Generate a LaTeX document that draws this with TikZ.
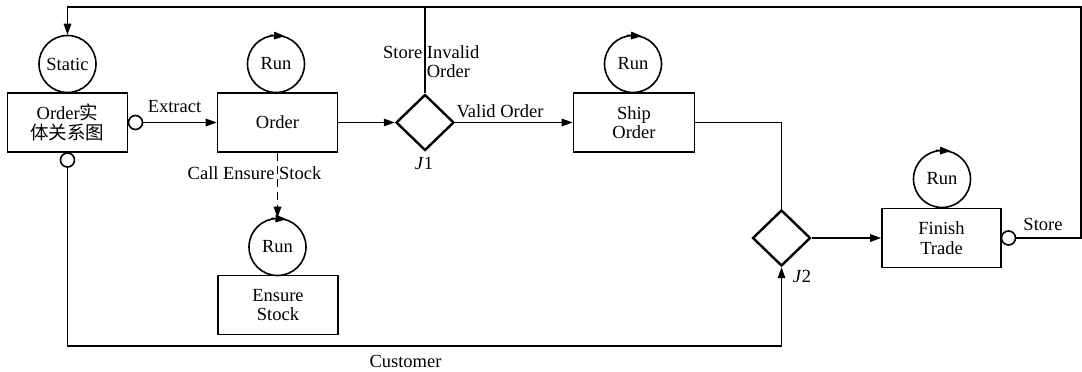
\documentclass[tikz,border=0pt]{standalone}
\usepackage{fontspec}
\setmainfont{Liberation Serif}
\newfontfamily\cjk{Noto Sans CJK SC}
\usetikzlibrary{shapes.geometric,arrows.meta}
\begin{document}
\begin{tikzpicture}[x=1pt,y=-1pt,
  every node/.style={font=\fontsize{18.5}{19.5}\selectfont},
  box/.style={draw,line width=1.6pt,minimum width=120pt,minimum height=59pt,inner sep=0pt,align=center},
  state/.style={draw,circle,line width=1.6pt,minimum size=57pt,inner sep=0pt},
  port/.style={draw,circle,line width=1.6pt,minimum size=14pt,inner sep=0pt},
  junc/.style={draw,diamond,line width=2.4pt,minimum width=58pt,minimum height=56pt,inner sep=0pt},
  conn/.style={line width=1.5pt},
  tip/.style={-{Triangle[length=11pt,width=7.5pt]}},
  lbl/.style={inner sep=0pt}]
\useasboundingbox (0,0) rectangle (1082,372);
% nodes
\node[box] (ent) at (67.5,122.5) {Order{\cjk 实}\\{\cjk 体关系图}};
\node[state] (static) at (67.5,64) {Static};
\node[port] (p1) at (135.5,122.5) {};
\node[port] (p2) at (67.5,160) {};
\node[box] (order) at (277.5,122.5) {Order};
\node[state] (run1) at (276,64) {Run};
\node[junc] (j1) at (425,122.5) {};
\node[box,minimum width=121pt] (ship) at (634,122.5) {Ship\\Order};
\node[state] (run2) at (633,64) {Run};
\node[junc] (j2) at (781.5,238) {};
\node[box,minimum width=119pt] (finish) at (941.5,238) {Finish\\Trade};
\node[state] (run3) at (942,179) {Run};
\node[port] (p3) at (1008.5,238) {};
\node[state] (run4) at (277.5,247) {Run};
\node[box] (ensure) at (278,305) {Ensure\\Stock};
% coordinates
\coordinate (tr) at (1081,7);
\coordinate (tl) at (67.5,7);
\coordinate (bl) at (67.5,346);
% run arrows
\draw[conn,tip] (run1.102) -- (run1.72);
\draw[conn,tip] (run2.102) -- (run2.72);
\draw[conn,tip] (run3.102) -- (run3.72);
\draw[conn,tip] (run4.102) -- (run4.72);
% connectors
\draw[conn,tip] (p1) -- (order);
\draw[conn,tip] (order) -- (j1);
\draw[conn,tip] (j1) -- (ship);
\draw[conn] (ship.east) -| (j2.north);
\draw[conn,tip] (j2) -- (finish);
\draw[conn,tip] (p3.east) -- (p3.east -| tr) -- (tr) -- (tl) -- (static.north);
\draw[conn] (j1.north) -- (j1.north |- tl);
\draw[conn,tip] (p2.south) -- (bl) -| (j2.south);
\draw[conn,tip,dash pattern=on 8pt off 5pt] (order.south) -- (run4.north);
% labels
\node[lbl] (lext) at (174.5,107) {Extract};
\node[lbl,align=left,anchor=west] (lsio) at (383,61.5) {Store Invalid\\\phantom{Store }Order};
\node[lbl] (lvo) at (500,111) {Valid Order};
\node[lbl] (lces) at (254.5,173) {Call Ensure Stock};
\node[lbl] (lcus) at (405.5,361) {Customer};
\node[lbl] (lj1) at (424,163) {\textit{J}1};
\node[lbl] (lj2) at (802,276) {\textit{J}2};
\node[lbl] (lst) at (1043,224) {Store};
\end{tikzpicture}
\end{document}
